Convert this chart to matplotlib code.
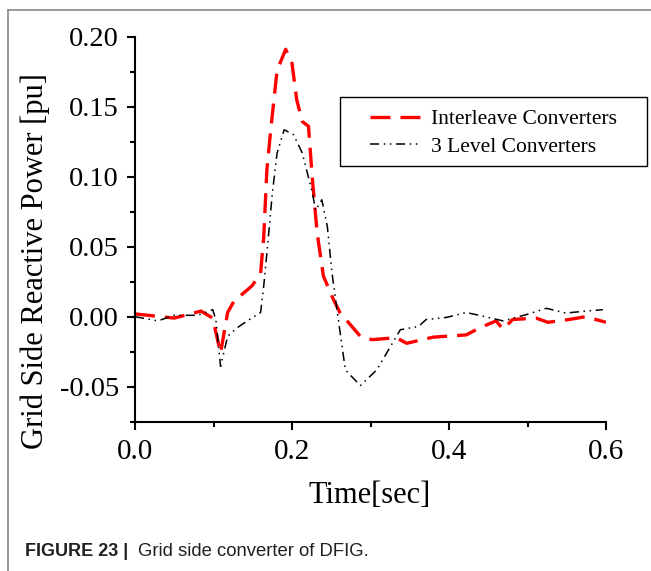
import matplotlib
matplotlib.use("Agg")
import matplotlib.pyplot as plt
from matplotlib.lines import Line2D
from matplotlib.patches import Rectangle
from matplotlib.ticker import MultipleLocator

# Interleave converters (red dashed)
t_inter = [0.0, 0.05, 0.084, 0.099, 0.109, 0.118, 0.126, 0.149, 0.16, 0.164,
           0.168, 0.173, 0.181, 0.192, 0.2, 0.206, 0.213, 0.221, 0.226, 0.232,
           0.240, 0.253, 0.261, 0.287, 0.302, 0.333, 0.346, 0.38, 0.422, 0.439,
           0.46, 0.469, 0.481, 0.511, 0.526, 0.553, 0.574, 0.6]
q_inter = [0.002, -0.001, 0.004, -0.001, -0.026, 0.003, 0.011, 0.022, 0.031, 0.057,
           0.105, 0.134, 0.176, 0.191, 0.181, 0.155, 0.1395, 0.136, 0.098, 0.06,
           0.029, 0.012, 0.003, -0.014, -0.0164, -0.015, -0.019, -0.0146, -0.013, -0.008,
           -0.003, -0.009, -0.002, -0.001, -0.004, -0.002, 0.0, -0.004]

# 3 level converters (black dash-dot-dot)
t_3lvl = [0.0, 0.029, 0.05, 0.08, 0.099, 0.103, 0.109, 0.118, 0.130, 0.143,
          0.16, 0.164, 0.168, 0.175, 0.181, 0.19, 0.202, 0.213, 0.226, 0.23,
          0.238, 0.245, 0.251, 0.259, 0.268, 0.287, 0.308, 0.338, 0.361, 0.371,
          0.397, 0.422, 0.435, 0.469, 0.498, 0.524, 0.549, 0.574, 0.596]
q_3lvl = [0.0, -0.003, 0.001, 0.001, 0.005, -0.002, -0.0355, -0.014, -0.008, -0.003,
          0.003, 0.022, 0.0455, 0.0885, 0.117, 0.1335, 0.130, 0.117, 0.0885, 0.076,
          0.0835, 0.0645, 0.031, -0.002, -0.038, -0.0492, -0.038, -0.0093, -0.007, -0.002,
          -0.0005, 0.003, 0.0014, -0.003, 0.0014, 0.006, 0.0026, 0.004, 0.005]

xticks = [0.0, 0.2, 0.4, 0.6]
yticks = [-0.05, 0.0, 0.05, 0.10, 0.15, 0.20]

serif = "Liberation Serif"
W, H = 651, 571

fig = plt.figure(figsize=(6.51, 5.71), dpi=100)
ax = fig.add_axes([135 / W, 1 - 421.7 / H, 471 / W, 385 / H])

ax.plot(t_inter, q_inter, color="red", lw=2.4, dashes=(6, 3),
        label="Interleave Converters")
ax.plot(t_3lvl, q_3lvl, color="black", lw=1.1, dashes=(6, 3, 1, 3, 1, 3),
        label="3 Level Converters")

ax.set_xlim(0, 0.6)
ax.set_ylim(-0.075, 0.20)
ax.xaxis.set_major_locator(MultipleLocator(0.2))
ax.xaxis.set_minor_locator(MultipleLocator(0.1))
ax.yaxis.set_major_locator(MultipleLocator(0.05))
ax.yaxis.set_minor_locator(MultipleLocator(0.025))
ax.set_xticklabels([])
ax.set_yticklabels([])

for s in ["top", "right"]:
    ax.spines[s].set_visible(False)
for s in ["left", "bottom"]:
    ax.spines[s].set_linewidth(1.5)
ax.tick_params(which="major", direction="out", length=6, width=1.5)
ax.tick_params(which="minor", direction="out", length=3.5, width=1.5)

# tick labels
for v in xticks:
    ax.annotate(f"{v:.1f}", xy=(v, 0), xycoords=("data", "axes fraction"),
                xytext=(0, -26.9), textcoords="offset points",
                ha="center", va="baseline", fontsize=21, family=serif)
for v in yticks:
    ax.annotate(f"{v:.2f}", xy=(0, v), xycoords=("axes fraction", "data"),
                xytext=(-11.5, -6.6), textcoords="offset points",
                ha="right", va="baseline", fontsize=20.5, family=serif)

fig.text(370 / W, 1 - 503 / H, "Time[sec]", ha="center", va="baseline",
         fontsize=22, family=serif)
fig.text(35 / W, 1 - 261 / H, "Grid Side Reactive Power [pu]",
         ha="center", va="center", rotation=90, fontsize=22, family=serif)

# legend, box drawn separately
leg = ax.legend(loc="upper left", bbox_to_anchor=(370 / W, 1 - 109 / H),
                bbox_transform=fig.transFigure, frameon=False,
                prop={"family": serif, "size": 15.5}, handlelength=2.4,
                borderpad=0, borderaxespad=0, labelspacing=0.36,
                handletextpad=0.45)
fig.add_artist(Rectangle((340 / W, 1 - 166 / H), 307 / W, 69 / H,
                         transform=fig.transFigure, fill=False,
                         edgecolor="black", lw=1.0))

# caption
fig.text(25 / W, 1 - 552 / H, "FIGURE 23 |", ha="left", va="center",
         fontsize=13, family="Liberation Sans", fontweight="bold", color="#231f20")
fig.text(138 / W, 1 - 552 / H, "Grid side converter of DFIG.", ha="left",
         va="center", fontsize=13.3, family="Liberation Sans", color="#231f20")

# page frame lines
fig.add_artist(Line2D([8 / W, 1], [1 - 10 / H, 1 - 10 / H],
                      transform=fig.transFigure, color="#888888", lw=1.2))
fig.add_artist(Line2D([8 / W, 8 / W], [0, 1 - 10 / H],
                      transform=fig.transFigure, color="#888888", lw=1.2))

fig.savefig("out.png", dpi=100)
